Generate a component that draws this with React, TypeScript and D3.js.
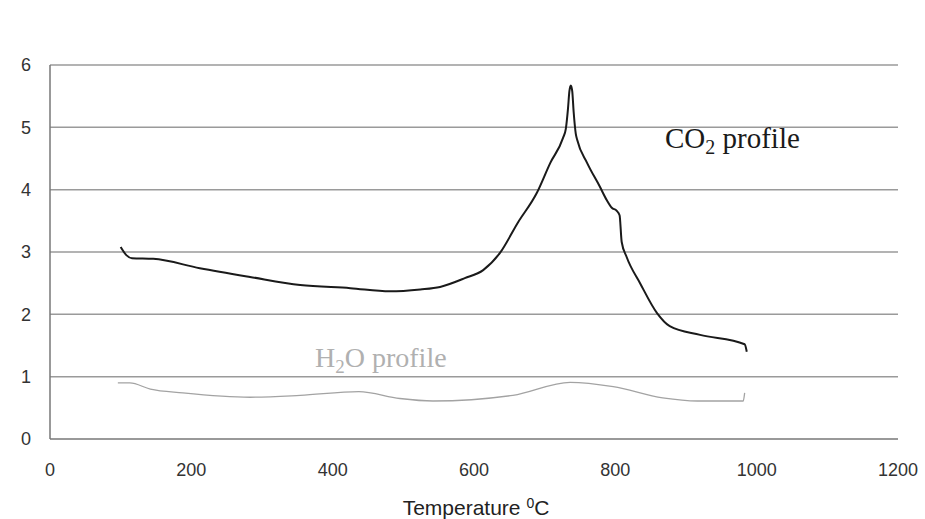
import React from 'react';
import * as d3 from 'd3';

// Temperature-programmed gas profiles
const xTicks = [0, 200, 400, 600, 800, 1000, 1200];
const yTicks = [0, 1, 2, 3, 4, 5, 6];

const co2Temp = [100, 108, 116, 146, 212, 283, 354, 425, 481, 524, 552, 587, 613, 637, 662, 689, 708, 726, 730, 733, 735, 737, 739, 741, 744, 746, 760, 778, 788, 795, 802, 806, 809, 816, 835, 859, 877, 920, 983, 986];
const co2Value = [3.08, 2.95, 2.9, 2.89, 2.74, 2.6, 2.47, 2.42, 2.37, 2.4, 2.44, 2.58, 2.71, 2.99, 3.47, 3.95, 4.43, 4.83, 4.98, 5.3, 5.58, 5.67, 5.58, 5.25, 4.9, 4.8, 4.43, 4.05, 3.83, 3.71, 3.66, 3.59, 3.16, 2.92, 2.5, 2.02, 1.81, 1.67, 1.52, 1.4];

const h2oTemp = [96, 113, 142, 188, 283, 354, 437, 495, 542, 655, 736, 797, 867, 916, 981, 983];
const h2oValue = [0.9, 0.9, 0.8, 0.74, 0.67, 0.7, 0.76, 0.65, 0.61, 0.7, 0.91, 0.84, 0.66, 0.61, 0.61, 0.74];

const width = 925;
const height = 519;

export default function App() {
  const x = d3.scaleLinear().domain([0, 1200]).range([50, 898]);
  const y = d3.scaleLinear().domain([0, 6]).range([439, 65]);

  const line = d3.line<[number, number]>()
    .x(d => x(d[0]))
    .y(d => y(d[1]))
    .curve(d3.curveMonotoneX);

  const co2 = co2Temp.map((t, i) => [t, co2Value[i]] as [number, number]);
  const h2o = h2oTemp.map((t, i) => [t, h2oValue[i]] as [number, number]);

  return (
    <svg
      width={width}
      height={height}
      viewBox={`0 0 ${width} ${height}`}
      style={{ position: 'absolute', left: 0, top: 0, background: '#fff' }}
    >
      {/* gridlines */}
      {yTicks.slice(1).map(t => (
        <line key={t} x1={x(0)} x2={x(1200)} y1={y(t)} y2={y(t)} stroke="#9a9a9a" strokeWidth={1.5} />
      ))}

      {/* axes */}
      <line x1={x(0)} x2={x(0)} y1={y(0)} y2={y(6)} stroke="#777" strokeWidth={1.5} />
      <line x1={x(0)} x2={x(1200)} y1={y(0)} y2={y(0)} stroke="#777" strokeWidth={1.5} />

      {/* y tick labels */}
      {yTicks.map(t => (
        <text key={t} x={31} y={y(t)} dy="0.35em" textAnchor="end"
          fontFamily="Liberation Sans, Arial, sans-serif" fontSize={18} fill="#333">
          {t}
        </text>
      ))}

      {/* x tick labels */}
      {xTicks.map(t => (
        <text key={t} x={x(t)} y={470} dy="0.35em" textAnchor="middle"
          fontFamily="Liberation Sans, Arial, sans-serif" fontSize={18} fill="#333">
          {t}
        </text>
      ))}

      <text x={476} y={508} dy="0.35em" textAnchor="middle"
        fontFamily="Liberation Sans, Arial, sans-serif" fontSize={21} fill="#222">
        Temperature <tspan fontSize={14} dy="-7">0</tspan><tspan dy="7">C</tspan>
      </text>

      {/* series */}
      <path d={line(h2o) || ''} fill="none" stroke="#a3a3a3" strokeWidth={1.3} />
      <path d={line(co2) || ''} fill="none" stroke="#1a1a1a" strokeWidth={2} />

      {/* series labels */}
      <text x={665} y={148} fontFamily="Liberation Serif, Times New Roman, serif" fontSize={29} fill="#1a1a1a">
        CO<tspan fontSize={20} dy="6">2</tspan><tspan dy="-6"> profile</tspan>
      </text>
      <text x={315} y={367} fontFamily="Liberation Serif, Times New Roman, serif" fontSize={28} fill="#b0b0b0">
        H<tspan fontSize={19} dy="6">2</tspan><tspan dy="-6">O profile</tspan>
      </text>
    </svg>
  );
}
